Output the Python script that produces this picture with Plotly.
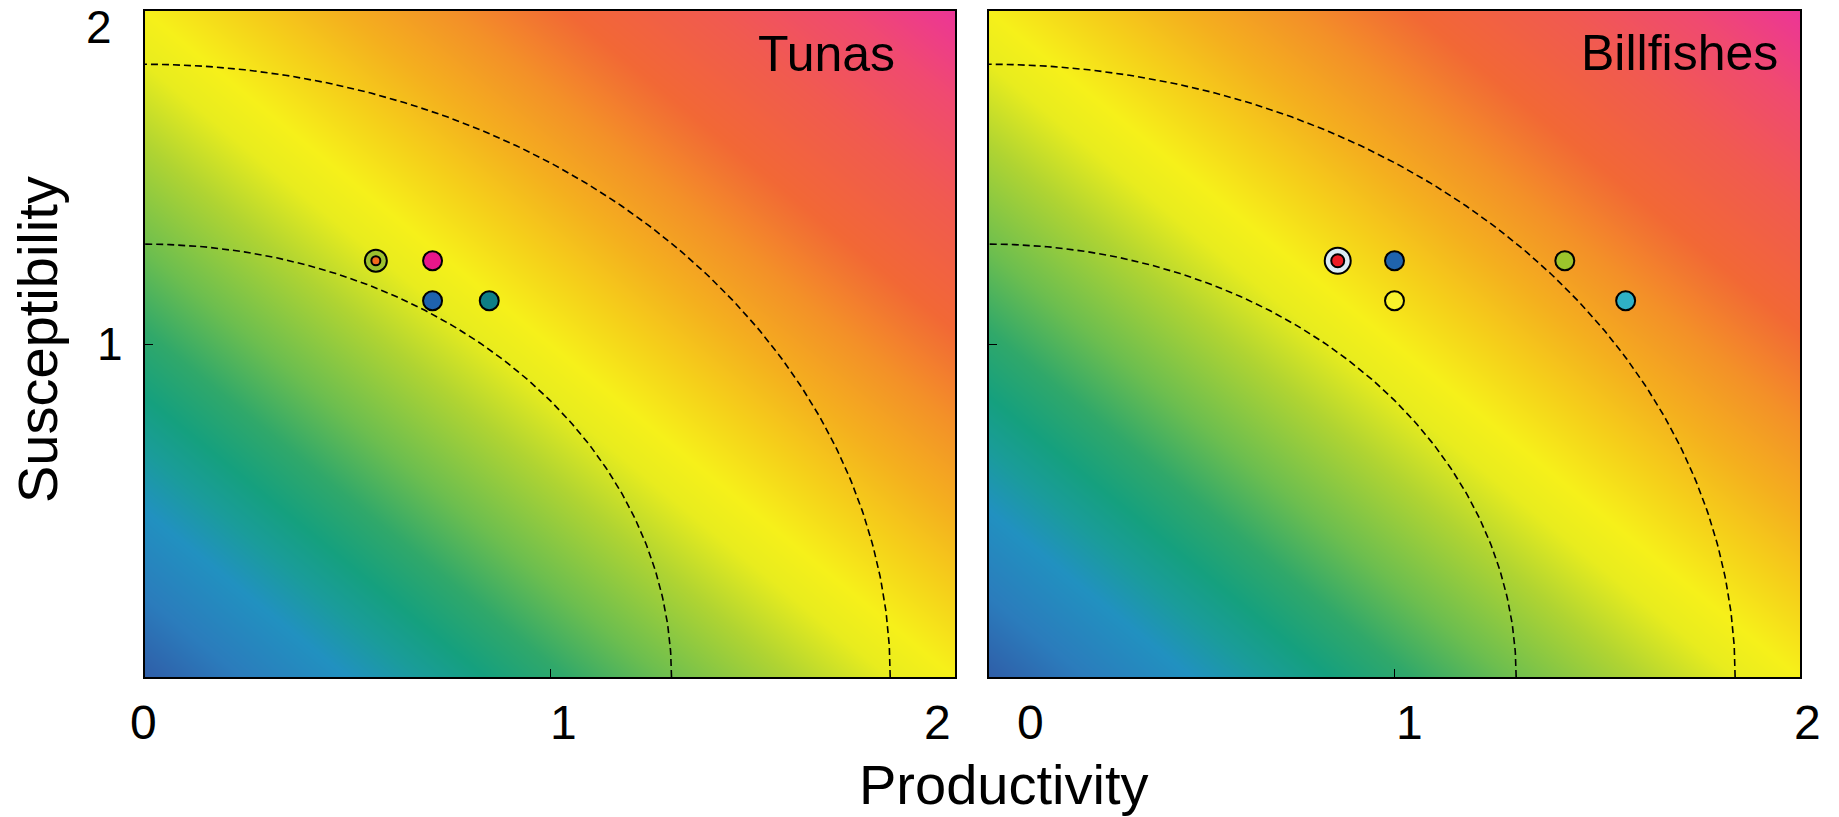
import numpy as np
import plotly.graph_objects as go

# ---------------- data ----------------
panel_names = ["Tunas", "Billfishes"]

tunas_x = [0.57, 0.71, 0.71, 0.85]
tunas_y = [1.25, 1.25, 1.13, 1.13]
tunas_fill = ["#9cc12e", "#e8178a", "#1f63ad", "#0f7f86"]
tunas_core = ["#f26b1c", None, None, None]

bill_x = [0.86, 1.00, 1.00, 1.42, 1.57]
bill_y = [1.25, 1.25, 1.13, 1.25, 1.13]
bill_fill = ["#dcecf4", "#1f63ad", "#f8f22c", "#9cc42c", "#2fb0c6"]
bill_core = ["#ee1c24", None, None, None, None]

risk_radii = [1.30, 1.84]

# background risk surface (productivity + susceptibility score)
bg_axis = [0, 1, 2]
bg_score = [[0, 1, 2],
            [1, 2, 3],
            [2, 3, 4]]
bg_stops = [0.0, 0.06, 0.125, 0.17, 0.21, 0.26, 0.32, 0.40, 0.46, 0.50,
            0.56, 0.62, 0.69, 0.76, 0.85, 0.93, 1.0]
bg_colors = ["#2f5ea8", "#2b7cbc", "#2191c0", "#1a9c9a", "#15a07e", "#30a86a",
             "#6cbe4f", "#b0d432", "#e8ec1e", "#f6f01a", "#f5d01a", "#f4b01e",
             "#f39028", "#f26835", "#f15a50", "#f04a70", "#ec3596"]

x_tick_vals = [0, 1, 2]
x_tick_text = ["0", "1", "2"]
y_tick_vals = [1, 2]
y_tick_text = ["1", "2"]

# ---------------- figure ----------------
W, H = 1839, 817
fig = go.Figure()
colorscale = [[s, c] for s, c in zip(bg_stops, bg_colors)]

axes = [("x", "y"), ("x2", "y2")]
theta = np.linspace(0, np.pi / 2, 200)

panels = [(tunas_x, tunas_y, tunas_fill, tunas_core, 22, 9),
          (bill_x, bill_y, bill_fill, bill_core, 26, 13)]

for (xa, ya), (px, py, pf, pc, ring_size, core_size) in zip(axes, panels):
    fig.add_trace(go.Heatmap(x=bg_axis, y=bg_axis, z=bg_score, zmin=0, zmax=4,
                             colorscale=colorscale, zsmooth="best",
                             showscale=False, hoverinfo="skip",
                             xaxis=xa, yaxis=ya))
    for r in risk_radii:
        fig.add_trace(go.Scatter(x=r * np.cos(theta), y=r * np.sin(theta),
                                 mode="lines", hoverinfo="skip",
                                 line=dict(color="black", width=1.6, dash="7px,4px"),
                                 xaxis=xa, yaxis=ya, showlegend=False))
    sizes = [ring_size if c else 19 for c in pc]
    fig.add_trace(go.Scatter(x=px, y=py, mode="markers", showlegend=False,
                             marker=dict(size=sizes, color=pf, opacity=1,
                                         line=dict(color="black", width=2)),
                             xaxis=xa, yaxis=ya))
    cx = [x for x, c in zip(px, pc) if c]
    cy = [y for y, c in zip(py, pc) if c]
    cc = [c for c in pc if c]
    fig.add_trace(go.Scatter(x=cx, y=cy, mode="markers", showlegend=False,
                             marker=dict(size=core_size, color=cc, opacity=1,
                                         line=dict(color="black", width=2)),
                             xaxis=xa, yaxis=ya))

ydom = [140 / H, 806 / H]
axis_common = dict(range=[0, 2], showgrid=False, zeroline=False, showline=True,
                   mirror=True, linecolor="black", linewidth=1.5,
                   ticks="inside", ticklen=8, tickwidth=1, tickcolor="black",
                   tickvals=[1], showticklabels=False)

fig.update_layout(
    width=W, height=H,
    margin=dict(l=0, r=0, t=0, b=0, pad=0),
    paper_bgcolor="white", plot_bgcolor="white",
    showlegend=False,
    xaxis=dict(domain=[145 / W, 955 / W], anchor="y", **axis_common),
    yaxis=dict(domain=ydom, anchor="x", **axis_common),
    xaxis2=dict(domain=[989 / W, 1800 / W], anchor="y2", **axis_common),
    yaxis2=dict(domain=ydom, anchor="x2", **axis_common),
    font=dict(family="Liberation Sans, Arial, sans-serif", color="black"),
)

ann = []
# panel names
ann.append(dict(text=panel_names[0], xref="paper", yref="paper", x=897 / W,
                y=1 - 54 / H, xanchor="right", yanchor="middle",
                showarrow=False, font=dict(size=50)))
ann.append(dict(text=panel_names[1], xref="paper", yref="paper", x=1780 / W,
                y=1 - 53 / H, xanchor="right", yanchor="middle",
                showarrow=False, font=dict(size=50)))
# axis titles
ann.append(dict(text="Productivity", xref="paper", yref="paper", x=1003 / W,
                y=1 - 784 / H, xanchor="center", yanchor="middle",
                showarrow=False, font=dict(size=56)))
ann.append(dict(text="Susceptibility", xref="paper", yref="paper", x=38 / W,
                y=1 - 340 / H, xanchor="center", yanchor="middle",
                textangle=-90, showarrow=False, font=dict(size=56)))
# x tick labels (positions follow the original artwork)
x_shifts = [[-2, 13, -18], [41, 15, 7]]
for (xa, _), shifts in zip(axes, x_shifts):
    for v, t, s in zip(x_tick_vals, x_tick_text, shifts):
        ann.append(dict(text=t, xref=xa, yref="paper", x=v, xshift=s,
                        y=1 - 722 / H, xanchor="center", yanchor="middle",
                        showarrow=False, font=dict(size=48)))
# y tick labels
y_pos = [(110, 0), (99, -16)]
for v, t, (px_, ys) in zip(y_tick_vals, y_tick_text, y_pos):
    ann.append(dict(text=t, xref="paper", yref="y", x=px_ / W, y=v, yshift=ys,
                    xanchor="center", yanchor="middle", showarrow=False,
                    font=dict(size=46)))
fig.update_layout(annotations=ann)

fig.write_html("out.html", config={"displayModeBar": False},
               post_script="document.body.style.margin='0';document.body.style.overflow='hidden';")
